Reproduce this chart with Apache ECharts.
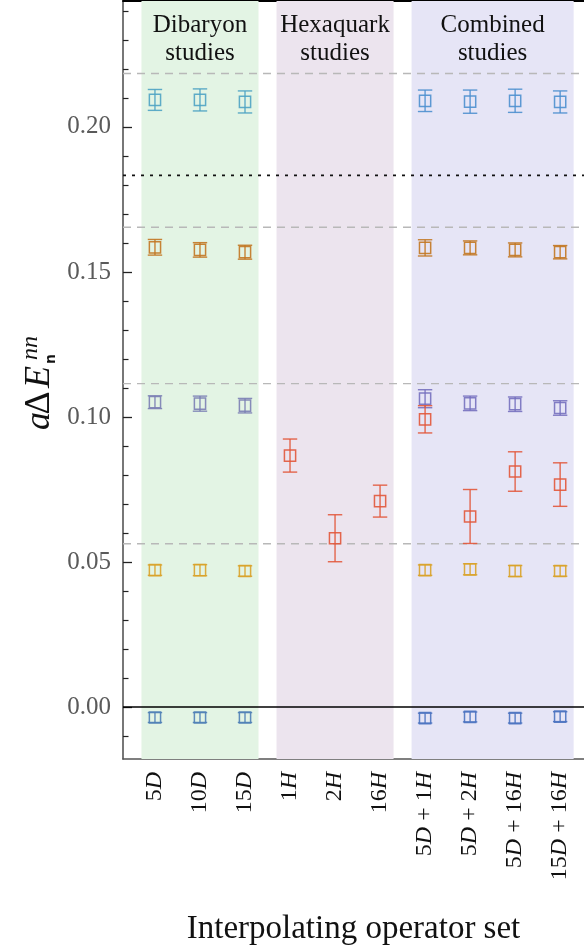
<!DOCTYPE html>
<html>
<head>
<meta charset="utf-8">
<script src="https://cdn.jsdelivr.net/npm/echarts@6/dist/echarts.min.js"></script>
<style>
html,body{margin:0;padding:0;background:#fff;}
#chart{width:584px;height:949px;}
</style>
</head>
<body>
<div id="chart"></div>
<script>
// ---------- data ----------
var categories = ['5D', '10D', '15D', '1H', '2H', '16H', '5D + 1H', '5D + 2H', '5D + 16H', '15D + 16H'];
var categoryPos = [0, 1, 2, 3, 4, 5, 6, 7, 8, 9];

var level0 = [-0.0036, -0.0036, -0.0036, null, null, null, -0.0038, -0.0034, -0.0038, -0.0033];
var level0Err = [0.0017, 0.0017, 0.0017, null, null, null, 0.0017, 0.0017, 0.0017, 0.0017];
var level1 = [0.0472, 0.0472, 0.0469, null, null, null, 0.0472, 0.0475, 0.0469, 0.0469];
var level1Err = [0.0018, 0.0019, 0.0018, null, null, null, 0.0018, 0.0019, 0.0019, 0.0018];
var level2 = [0.1051, 0.1046, 0.1039, null, null, null, 0.1063, 0.1047, 0.1044, 0.1031];
var level2Err = [0.0022, 0.0026, 0.0025, null, null, null, 0.0031, 0.0025, 0.0025, 0.0025];
var level3 = [0.1585, 0.1576, 0.1568, null, null, null, 0.1583, 0.1583, 0.1576, 0.1568];
var level3Err = [0.0027, 0.0025, 0.0024, null, null, null, 0.0028, 0.0024, 0.0024, 0.0023];
var level4 = [0.2093, 0.2093, 0.2086, null, null, null, 0.2090, 0.2087, 0.2090, 0.2086];
var level4Err = [0.0036, 0.0038, 0.0038, null, null, null, 0.0037, 0.0040, 0.0040, 0.0038];
var hexa = [null, null, null, 0.0867, 0.0582, 0.0710, 0.0992, 0.0657, 0.0812, 0.0767];
var hexaErr = [null, null, null, 0.0057, 0.0081, 0.0055, 0.0047, 0.0093, 0.0068, 0.0075];

var thresholds = [0.2184, 0.1654, 0.1115, 0.0563];
var dottedLevel = [0.1833];
var zeroLevel = [0];

var bandNames = ['Dibaryon\nstudies', 'Hexaquark\nstudies', 'Combined\nstudies'];
var bandStart = [-0.3, 2.7, 5.7];
var bandEnd = [2.3, 5.3, 9.3];

var yMajorTicks = [0, 0.05, 0.10, 0.15, 0.20];
var yMinorTicks = [-0.01, 0.01, 0.02, 0.03, 0.04, 0.06, 0.07, 0.08, 0.09, 0.11, 0.12, 0.13, 0.14, 0.16, 0.17, 0.18, 0.19, 0.21, 0.22, 0.23, 0.24];

// ---------- styles ----------
var SERIF = '"Liberation Serif", "DejaVu Serif", serif';
var bandColors = ['#e3f4e4', '#ece4ee', '#e6e5f6'];
var XMIN = -0.71, XMAX = 9.53, YMIN = -0.0179, YMAX = 0.2434;

function toItems(vals, errs) {
  var out = [];
  for (var i = 0; i < vals.length; i++) {
    if (vals[i] !== null) out.push([categoryPos[i], vals[i], errs[i]]);
  }
  return out;
}

function makeRender(colorFn) {
  return function (params, api) {
    var x = api.value(0), y = api.value(1), e = api.value(2);
    var col = colorFn(x);
    var c = api.coord([x, y]);
    var t = api.coord([x, y + e]);
    var b = api.coord([x, y - e]);
    var cap = 7.2, h = 5.6, lw = 1.4;
    return {
      type: 'group',
      children: [
        { type: 'line', shape: { x1: c[0], y1: t[1], x2: c[0], y2: b[1] }, style: { stroke: col, lineWidth: lw, opacity: 0.9 } },
        { type: 'line', shape: { x1: c[0] - cap, y1: t[1], x2: c[0] + cap, y2: t[1] }, style: { stroke: col, lineWidth: lw, opacity: 0.9 } },
        { type: 'line', shape: { x1: c[0] - cap, y1: b[1], x2: c[0] + cap, y2: b[1] }, style: { stroke: col, lineWidth: lw, opacity: 0.9 } },
        { type: 'rect', shape: { x: c[0] - h, y: c[1] - h, width: 2 * h, height: 2 * h }, style: { fill: 'none', stroke: col, lineWidth: 1.5, opacity: 0.9 } }
      ]
    };
  };
}

function seriesFor(vals, errs, colorFn) {
  return {
    type: 'custom',
    renderItem: makeRender(colorFn),
    data: toItems(vals, errs),
    encode: { x: 0, y: 1 },
    z: 5,
    silent: true
  };
}

function hLineSeries(vals, style, z) {
  return {
    type: 'custom',
    silent: true,
    z: z,
    clip: false,
    data: vals.map(function (v) { return [XMIN, v]; }),
    encode: { x: 0, y: 1 },
    renderItem: function (params, api) {
      var cs = params.coordSys;
      var y = api.coord([api.value(0), api.value(1)])[1];
      return {
        type: 'line',
        shape: { x1: cs.x, y1: y, x2: cs.x + cs.width, y2: y },
        style: style
      };
    }
  };
}

var markAreaData = bandNames.map(function (n, i) {
  return [
    { xAxis: bandStart[i], yAxis: YMIN, name: n, itemStyle: { color: bandColors[i] } },
    { xAxis: bandEnd[i], yAxis: YMAX }
  ];
});

function richLabel(s) {
  return s.replace(/([DH])/g, '{i|$1}');
}

var chart = echarts.init(document.getElementById('chart'), null, { renderer: 'canvas' });

var TXT = '#111';
var option = {
  animation: false,
  backgroundColor: '#fff',
  grid: { left: 123, right: 0, top: 1, bottom: 190, outerBoundsMode: 'none', containLabel: false },
  xAxis: [
    {
      type: 'value', position: 'bottom', min: XMIN, max: XMAX,
      axisLine: { show: true, onZero: false, lineStyle: { color: '#555', width: 1.6 } },
      axisTick: { show: true, inside: true, length: 8, customValues: categoryPos, lineStyle: { color: '#222', width: 1.3 } },
      splitLine: { show: false },
      axisLabel: {
        show: true, customValues: categoryPos, rotate: 90, margin: 13,
        fontFamily: SERIF, fontSize: 24, color: TXT,
        formatter: function (v) { return richLabel(categories[Math.round(v)]); },
        rich: { i: { fontFamily: SERIF, fontStyle: 'italic', fontSize: 24, color: TXT } }
      },
      name: 'Interpolating operator set', nameLocation: 'middle', nameGap: 154,
      nameTextStyle: { fontFamily: SERIF, fontSize: 33, color: TXT }
    },
    {
      type: 'value', position: 'top', min: XMIN, max: XMAX,
      axisLine: { show: true, onZero: false, lineStyle: { color: '#000', width: 2 } },
      axisTick: { show: false }, axisLabel: { show: false }, splitLine: { show: false }
    }
  ],
  yAxis: [
    {
      type: 'value', min: YMIN, max: YMAX, position: 'left',
      axisLine: { show: true, onZero: false, lineStyle: { color: '#555', width: 1.6 } },
      axisTick: { show: true, inside: true, length: 9, customValues: yMajorTicks, lineStyle: { color: '#222', width: 1.3 } },
      axisLabel: {
        show: true, customValues: yMajorTicks, margin: 12,
        fontFamily: SERIF, fontSize: 25, color: '#5a5a5a',
        formatter: function (v) { return v.toFixed(2); }
      },
      splitLine: { show: false }
    },
    {
      type: 'value', min: YMIN, max: YMAX, position: 'left',
      axisLine: { show: false, onZero: false },
      axisTick: { show: true, inside: true, length: 5.5, customValues: yMinorTicks, lineStyle: { color: '#222', width: 1.2 } },
      axisLabel: { show: false },
      splitLine: { show: false }
    }
  ],
  graphic: [
    {
      type: 'group', x: 40, y: 380, rotation: Math.PI / 2, z: 10,
      children: [
        { type: 'text', x: -41, y: 0, style: { text: 'a', fontFamily: SERIF, fontStyle: 'italic', fontSize: 36, fill: TXT, align: 'center', verticalAlign: 'middle' } },
        { type: 'text', x: -23, y: 0, style: { text: 'Δ', fontFamily: SERIF, fontSize: 36, fill: TXT, align: 'center', verticalAlign: 'middle' } },
        { type: 'text', x: 3, y: 0, style: { text: 'E', fontFamily: SERIF, fontStyle: 'italic', fontSize: 36, fill: TXT, align: 'center', verticalAlign: 'middle' } },
        { type: 'text', x: 32, y: -9, style: { text: 'nn', fontFamily: SERIF, fontStyle: 'italic', fontSize: 24, fill: TXT, align: 'center', verticalAlign: 'middle' } },
        { type: 'text', x: 21, y: 11, style: { text: 'n', fontFamily: '"DejaVu Sans", sans-serif', fontWeight: 'bold', fontSize: 14, fill: TXT, align: 'center', verticalAlign: 'middle' } }
      ]
    }
  ],
  series: [
    {
      type: 'custom',
      renderItem: function () { return null; },
      data: [],
      z: 1,
      silent: true,
      markArea: {
        silent: true,
        label: {
          show: true, position: 'insideTop', distance: 10,
          fontFamily: SERIF, fontSize: 25, lineHeight: 28, color: TXT
        },
        data: markAreaData
      }
    },
    hLineSeries(thresholds, { stroke: '#b8b8b8', lineDash: [8, 6], lineWidth: 1.3 }, 2),
    hLineSeries(dottedLevel, { stroke: '#111', lineDash: [3, 6], lineWidth: 1.6 }, 2),
    hLineSeries(zeroLevel, { stroke: '#000', lineWidth: 1.4 }, 2),
    seriesFor(level0, level0Err, function (x) { return x < 3 ? '#4f80b6' : '#4a72c0'; }),
    seriesFor(level1, level1Err, function () { return '#d9a229'; }),
    seriesFor(level2, level2Err, function (x) { return x < 3 ? '#7b80b4' : '#7570bf'; }),
    seriesFor(level3, level3Err, function () { return '#c27722'; }),
    seriesFor(level4, level4Err, function (x) { return x < 3 ? '#4ea3c3' : '#4d8fcf'; }),
    seriesFor(hexa, hexaErr, function () { return '#e2563a'; })
  ]
};
chart.setOption(option);
</script>
</body>
</html>
